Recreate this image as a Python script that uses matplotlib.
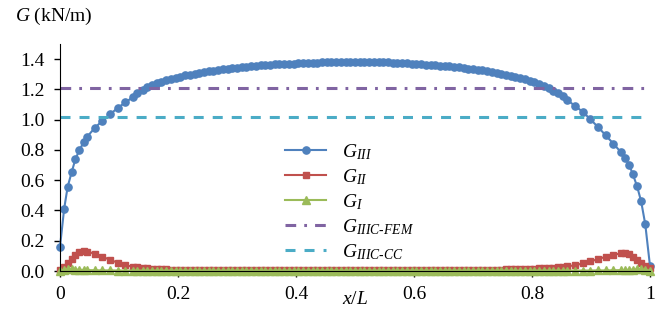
import matplotlib
matplotlib.use("Agg")
import matplotlib.pyplot as plt

plt.rcParams["font.family"] = "Liberation Serif"
plt.rcParams["mathtext.fontset"] = "custom"
plt.rcParams["mathtext.rm"] = "Liberation Serif"
plt.rcParams["mathtext.it"] = "Liberation Serif:italic"
plt.rcParams["lines.scale_dashes"] = False

# position along the joint, x/L (coarser near the ends, fine in the middle)
x = [0, 0.007, 0.013, 0.02, 0.026, 0.033, 0.04, 0.046, 0.059, 0.072, 0.085, 0.098, 0.111, 0.124, 0.131,
     0.140, 0.148, 0.156, 0.164, 0.172, 0.180, 0.188, 0.196, 0.204, 0.212, 0.220, 0.228, 0.236,
     0.244, 0.252, 0.260, 0.268, 0.276, 0.284, 0.292, 0.300, 0.308, 0.316, 0.324, 0.332, 0.340,
     0.348, 0.356, 0.364, 0.372, 0.380, 0.388, 0.396, 0.404, 0.412, 0.420, 0.428, 0.436, 0.444,
     0.452, 0.460, 0.468, 0.476, 0.484, 0.492, 0.500, 0.508, 0.516, 0.524, 0.532, 0.540, 0.548,
     0.556, 0.564, 0.572, 0.580, 0.588, 0.596, 0.604, 0.612, 0.620, 0.628, 0.636, 0.644, 0.652,
     0.660, 0.668, 0.676, 0.684, 0.692, 0.700, 0.708, 0.716, 0.724, 0.732, 0.740, 0.748, 0.756,
     0.764, 0.772, 0.780, 0.788, 0.796, 0.804, 0.812, 0.820, 0.828, 0.836, 0.844, 0.852, 0.860,
     0.873, 0.886, 0.899, 0.912, 0.925, 0.938, 0.951, 0.958, 0.965, 0.971, 0.978, 0.985, 0.992, 1.0]

g3 = [0.16, 0.41, 0.557, 0.656, 0.738, 0.80, 0.85, 0.887, 0.946, 0.993, 1.035, 1.079, 1.114, 1.151, 1.175,
      1.198, 1.214, 1.228, 1.240, 1.251, 1.260, 1.269, 1.277, 1.284, 1.292, 1.298, 1.304, 1.309,
      1.314, 1.319, 1.324, 1.329, 1.333, 1.337, 1.341, 1.344, 1.347, 1.350, 1.353, 1.355, 1.358,
      1.360, 1.363, 1.365, 1.366, 1.368, 1.369, 1.371, 1.373, 1.374, 1.375, 1.376, 1.377, 1.378,
      1.379, 1.380, 1.381, 1.381, 1.381, 1.382, 1.382, 1.382, 1.382, 1.381, 1.381, 1.380, 1.379,
      1.378, 1.377, 1.375, 1.374, 1.372, 1.371, 1.369, 1.366, 1.364, 1.362, 1.359, 1.357, 1.354,
      1.352, 1.349, 1.346, 1.342, 1.338, 1.334, 1.330, 1.325, 1.320, 1.315, 1.310, 1.303, 1.297,
      1.290, 1.283, 1.275, 1.266, 1.257, 1.247, 1.236, 1.222, 1.208, 1.192, 1.174, 1.155, 1.130,
      1.09, 1.052, 1.002, 0.951, 0.896, 0.841, 0.784, 0.746, 0.698, 0.638, 0.561, 0.46, 0.308, 0.033]

g2 = [0.007, 0.028, 0.05, 0.081, 0.106, 0.123, 0.13, 0.128, 0.114, 0.095, 0.073, 0.055, 0.038, 0.028, 0.024,
      0.020, 0.018, 0.015, 0.013, 0.012, 0.010, 0.009, 0.008, 0.008, 0.007, 0.007, 0.006, 0.006,
      0.006, 0.005, 0.005, 0.005, 0.005, 0.005, 0.005, 0.005, 0.005, 0.005, 0.005, 0.005, 0.005,
      0.005, 0.005, 0.005, 0.005, 0.005, 0.005, 0.005, 0.005, 0.005, 0.005, 0.005, 0.005, 0.005,
      0.005, 0.005, 0.005, 0.005, 0.005, 0.005, 0.005, 0.005, 0.005, 0.005, 0.005, 0.005, 0.005,
      0.005, 0.005, 0.005, 0.005, 0.005, 0.005, 0.005, 0.005, 0.005, 0.005, 0.005, 0.005, 0.005,
      0.005, 0.005, 0.005, 0.005, 0.006, 0.006, 0.006, 0.007, 0.007, 0.008, 0.008, 0.009, 0.010,
      0.011, 0.012, 0.013, 0.014, 0.015, 0.016, 0.018, 0.019, 0.021, 0.023, 0.025, 0.028, 0.031,
      0.038, 0.05, 0.063, 0.079, 0.094, 0.106, 0.118, 0.122, 0.114, 0.095, 0.073, 0.051, 0.033, 0.018]

g1 = [0.002, 0.008, 0.012, 0.010, 0.009, 0.008, 0.007, 0.006, 0.005, 0.004, 0.004, 0.003, 0.003, 0.003, 0.003,
      0.003, 0.003, 0.003, 0.003, 0.003, 0.003, 0.003, 0.003, 0.003, 0.003, 0.003, 0.003, 0.003,
      0.003, 0.003, 0.003, 0.003, 0.003, 0.003, 0.003, 0.003, 0.003, 0.003, 0.003, 0.003, 0.003,
      0.003, 0.003, 0.003, 0.003, 0.003, 0.003, 0.003, 0.003, 0.003, 0.003, 0.003, 0.003, 0.003,
      0.003, 0.003, 0.003, 0.003, 0.003, 0.003, 0.003, 0.003, 0.003, 0.003, 0.003, 0.003, 0.003,
      0.003, 0.003, 0.003, 0.003, 0.003, 0.003, 0.003, 0.003, 0.003, 0.003, 0.003, 0.003, 0.003,
      0.003, 0.003, 0.003, 0.003, 0.003, 0.003, 0.003, 0.003, 0.003, 0.003, 0.003, 0.003, 0.003,
      0.003, 0.003, 0.003, 0.003, 0.003, 0.003, 0.003, 0.003, 0.003, 0.003, 0.003, 0.003, 0.003,
      0.003, 0.003, 0.003, 0.004, 0.004, 0.005, 0.006, 0.007, 0.008, 0.009, 0.010, 0.010, 0.008, 0.003]

g3c_fem = 1.211
g3c_cc = 1.015

xticks = [0, 0.2, 0.4, 0.6, 0.8, 1]
xticklabels = ["0", "0.2", "0.4", "0.6", "0.8", "1"]
yticks = [0, 0.2, 0.4, 0.6, 0.8, 1.0, 1.2, 1.4]

fig = plt.figure(figsize=(6.64, 3.33), dpi=100)
ax = fig.add_axes([60 / 664, 1 - 271 / 333, 590 / 664, 227 / 333])

ax.plot(x, g3, color="#4F81BD", lw=1.5, marker="o", ms=5.2, label=r"$G_{III}$", clip_on=False)
ax.plot(x, g2, color="#C0504D", lw=1.5, marker="s", ms=5, label=r"$G_{II}$", clip_on=False)
ax.plot(x, g1, color="#9BBB59", lw=1.5, marker="^", ms=5.2, label=r"$G_{I}$", clip_on=False)
ax.plot([0, 1], [g3c_fem, g3c_fem], color="#8064A2", lw=2.2,
        linestyle=(0, (7.7, 5.8, 2, 5.8)), label=r"$G_{IIIC\text{-}FEM}$")
ax.plot([0, 1], [g3c_cc, g3c_cc], color="#4BACC6", lw=2.2,
        linestyle=(0, (7.2, 6.5)), label=r"$G_{IIIC\text{-}CC}$")

ax.set_xlim(0, 1)
ax.set_ylim(0, 1.5)
ax.set_xticks(xticks)
ax.set_xticklabels(xticklabels)
ax.set_yticks(yticks)
ax.set_yticklabels([f"{v:.1f}" for v in yticks])
ax.tick_params(labelsize=14, direction="out", length=4, width=1, pad=7)

ax.spines["top"].set_visible(False)
ax.spines["right"].set_visible(False)

ax.legend(loc="upper left", bbox_to_anchor=(0.352, 0.645), frameon=False, fontsize=14,
          handlelength=2.1, labelspacing=0.27, handletextpad=0.8)

fig.text(15 / 664, 1 - 16 / 333, r"$G$ (kN/m)", fontsize=14, va="center", ha="left")
fig.text(355 / 664, 1 - 300 / 333, r"$x/L$", fontsize=14, va="center", ha="center")

fig.savefig("out.png", dpi=100)
